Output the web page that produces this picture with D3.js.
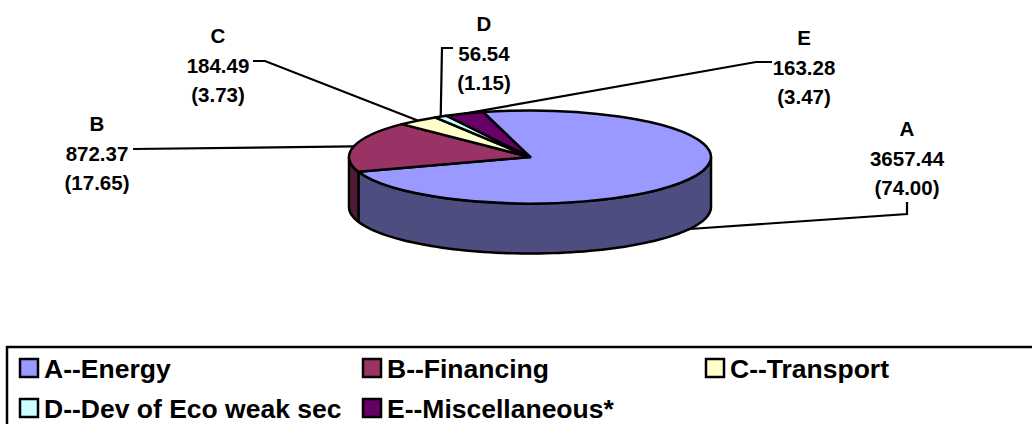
<!DOCTYPE html>
<html>
<head>
<meta charset="utf-8">
<script src="https://cdn.jsdelivr.net/npm/d3@7/dist/d3.min.js"></script>
<style>
  html, body { margin: 0; padding: 0; background: #fff; overflow: hidden; }
  text { font-family: "Liberation Sans", Arial, sans-serif; font-weight: 700; fill: #000; }
  .top path { vector-effect: non-scaling-stroke; }
</style>
</head>
<body>
<svg id="chart" width="1032" height="424"></svg>
<script>
// Sector outlay: amount and percentage share per category.
const categories = ["A", "B", "C", "D", "E"];
const legendNames = ["A--Energy", "B--Financing", "C--Transport", "D--Dev of Eco weak sec", "E--Miscellaneous*"];
const amounts = ["3657.44", "872.37", "184.49", "56.54", "163.28"];
const shares = [74.00, 17.65, 3.73, 1.15, 3.47];

const topColors = ["#9999ff", "#993366", "#ffffcc", "#ccffff", "#660066"];
const wallColors = ["#4d4d80", "#4d1a33", "#808066", "#668080", "#330033"];

// Disc geometry.
const cx = 530, cy = 157, rx = 181, ry = 46.5, depth = 50;
const startAngle = -15 * Math.PI / 180;

// Label block centre (first baseline) and leader start points, one per category.
const labelLayout = [
  { x: 907, y: 136, start: [[907, 202], [907, 214]], rim: "bottom" },
  { x: 97,  y: 131, start: [[133, 149]], rim: "top" },
  { x: 218, y: 43,  start: [[253, 61], [265, 61]], rim: "top" },
  { x: 484, y: 31,  start: [[453, 48], [442, 48]], rim: "top" },
  { x: 804, y: 45,  start: [[772, 62], [756, 62]], rim: "top" }
];

const svg = d3.select("#chart");

const pie = d3.pie().sort(null)
  .startAngle(startAngle)
  .endAngle(startAngle + 2 * Math.PI);
const slices = pie(shares);

// Position on the disc rim for an angle measured clockwise from 12 o'clock.
const rimX = a => cx + rx * Math.sin(a);
const rimY = a => cy - ry * Math.cos(a);

// Leader lines sit underneath the disc.
const leader = d3.line();
svg.append("g").selectAll("path")
  .data(slices)
  .join("path")
  .attr("fill", "none")
  .attr("stroke", "#000")
  .attr("stroke-width", 2.2)
  .attr("d", (s, i) => {
    const mid = (s.startAngle + s.endAngle) / 2;
    const lay = labelLayout[i];
    const end = [rimX(mid), rimY(mid) + (lay.rim === "bottom" ? depth : 0)];
    return leader([...lay.start, end]);
  });

// Side wall: only the part of each slice facing the viewer.
const walls = svg.append("g");
slices.forEach((s, i) => {
  const a0 = Math.max(s.startAngle, Math.PI / 2);
  const a1 = Math.min(s.endAngle, 3 * Math.PI / 2);
  if (a1 <= a0) return;
  const n = 80;
  const arcPts = d3.range(n + 1).map(k => a0 + (a1 - a0) * k / n);
  const upper = arcPts.map(a => [rimX(a), rimY(a)]);
  const lower = arcPts.slice().reverse().map(a => [rimX(a), rimY(a) + depth]);
  walls.append("path")
    .attr("d", d3.line()([...upper, ...lower]) + "Z")
    .attr("fill", wallColors[i])
    .attr("stroke", "#000")
    .attr("stroke-width", 2.5)
    .attr("stroke-linejoin", "round");
});

// Top face: a circular pie flattened into an ellipse.
const arc = d3.arc().innerRadius(0).outerRadius(rx);
svg.append("g")
  .attr("class", "top")
  .attr("transform", `translate(${cx},${cy}) scale(1,${ry / rx})`)
  .selectAll("path")
  .data(slices)
  .join("path")
  .attr("d", arc)
  .attr("fill", (d, i) => topColors[i])
  .attr("stroke", "#000")
  .attr("stroke-width", 2.5)
  .attr("stroke-linejoin", "round");

// Three-line value labels.
const lineGap = 29.5;
const labels = svg.append("g").selectAll("g")
  .data(categories)
  .join("g")
  .attr("transform", (d, i) => `translate(${labelLayout[i].x},${labelLayout[i].y})`);
labels.each(function (d, i) {
  const g = d3.select(this);
  [d, amounts[i], `(${shares[i].toFixed(2)})`].forEach((t, k) => {
    g.append("text")
      .attr("y", k * lineGap)
      .attr("text-anchor", "middle")
      .attr("font-size", 20.5)
      .text(t);
  });
});

// Legend frame and two rows of keys; the frame runs off the page edge.
const legend = svg.append("g");
legend.append("rect")
  .attr("x", 7).attr("y", 347)
  .attr("width", 1040).attr("height", 90)
  .attr("fill", "none")
  .attr("stroke", "#000")
  .attr("stroke-width", 2.5);

const legendCol = d3.scalePoint().domain([0, 1, 2]).range([20, 706]);
const legendRow = d3.scalePoint().domain([0, 1]).range([368, 408]);
legendNames.forEach((name, i) => {
  const x = legendCol(i % 3), y = legendRow(Math.floor(i / 3));
  legend.append("rect")
    .attr("x", x).attr("y", y - 9)
    .attr("width", 18).attr("height", 18)
    .attr("fill", topColors[i])
    .attr("stroke", "#000")
    .attr("stroke-width", 2.5);
  legend.append("text")
    .attr("x", x + 24).attr("y", y + 9.5)
    .attr("font-size", 26.5)
    .text(name);
});
</script>
</body>
</html>
